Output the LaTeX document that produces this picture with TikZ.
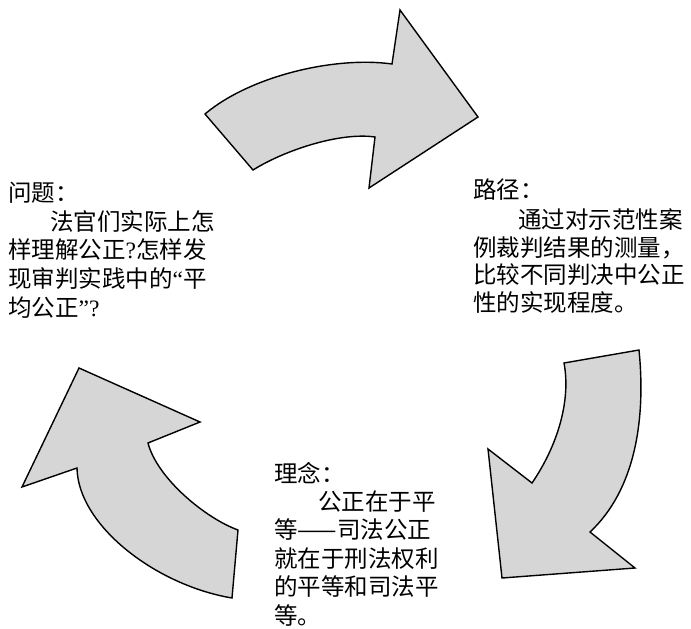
\documentclass[tikz,border=0pt]{standalone}
\usepackage{fontspec}
\newfontfamily\cjk{Noto Sans CJK SC}
\newfontfamily\lat{Liberation Serif}
\begin{document}
\begin{tikzpicture}[x=1pt,y=-1pt,
  arrowshape/.style={draw=black, line width=1.4pt, line join=miter, fill=black!16},
  txt/.style={anchor=west, inner sep=0pt, text height=20pt, text depth=3pt, font=\cjk\fontsize{23.5}{28}\selectfont}]
\useasboundingbox (0,0) rectangle (691,629);
% top arrow
\draw[arrowshape] (205,114) .. controls (250,76) and (335,56) .. (392,64)
  -- (400,10) -- (478,117) -- (369,188) -- (375,137)
  .. controls (340,132) and (285,150) .. (253,170) -- cycle;
% right arrow
\draw[arrowshape] (564,363) -- (639,350) .. controls (646,420) and (635,490) .. (590,532)
  -- (635,568) -- (502,578) -- (488,449) -- (532,483)
  .. controls (558,445) and (571,400) .. (564,363) -- cycle;
% left arrow
\draw[arrowshape] (79,368) -- (200,422) -- (148,443)
  .. controls (157,478) and (205,518) .. (238,530) -- (232,598)
  .. controls (155,585) and (78,525) .. (77,468) -- (22,487) -- cycle;
% left text
\node[txt] (q1) at (8,193) {问题：};
\node[txt] (q2) at (50,222) {法官们实际上怎};
\node[txt] (q3) at (8,250) {样理解公正{\lat ?}怎样发};
\node[txt] (q4) at (8,279) {现审判实践中的{\lat “}平};
\node[txt] (q5) at (8,308) {均公正{\lat ”?}};
% right text
\node[txt] (r1) at (473,190) {路径：};
\node[txt] (r2) at (518,220) {通过对示范性案};
\node[txt] (r3) at (473,248) {例裁判结果的测量，};
\node[txt] (r4) at (473,275) {比较不同判决中公正};
\node[txt] (r5) at (473,303) {性的实现程度。};
% bottom text
\node[txt] (b1) at (274,474) {理念：};
\node[txt] (b2) at (318,502) {公正在于平};
\node[txt] (b3) at (274,530) {等——司法公正};
\node[txt] (b4) at (274,559) {就在于刑法权利};
\node[txt] (b5) at (274,587) {的平等和司法平};
\node[txt] (b6) at (274,616) {等。};
\end{tikzpicture}
\end{document}
